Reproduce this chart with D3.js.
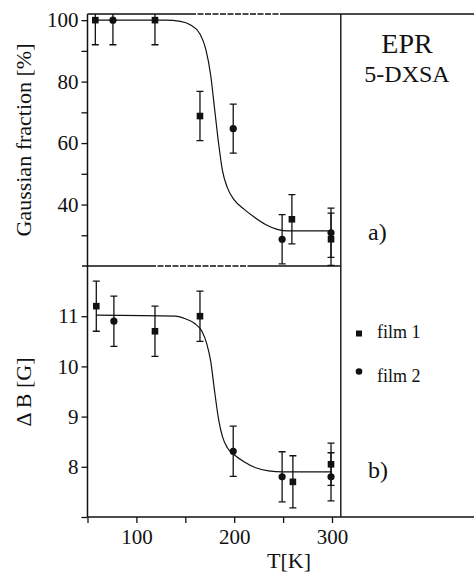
<!DOCTYPE html>
<html>
<head>
<meta charset="utf-8">
<script src="https://cdn.jsdelivr.net/npm/d3@7"></script>
<style>
  html, body { margin: 0; padding: 0; background: #fff; }
  svg { display: block; }
  text { font-family: "Liberation Serif", "Times New Roman", serif; fill: #111; }
</style>
</head>
<body>
<svg id="chart" width="474" height="573"></svg>
<script>
// Temperature sweep, film 1 (squares) and film 2 (circles)
const film1T      = [58, 119, 165, 259, 299];
const film1Gauss  = [100, 100, 68.8, 35.2, 28.7];
const film1GaussE = [8, 8, 8, 8, 8.5];
const film2T      = [76, 199, 249, 299];
const film2Gauss  = [100, 64.7, 28.7, 30.8];
const film2GaussE = [8, 8, 8, 8];

const film1dBT    = [59, 119, 165, 260, 299];
const film1dB     = [11.2, 10.7, 11.0, 7.7, 8.05];
const film1dBE    = [0.5, 0.5, 0.5, 0.52, 0.42];
const film2dBT    = [77, 199, 249, 299];
const film2dB     = [10.9, 8.31, 7.8, 7.8];
const film2dBE    = [0.5, 0.5, 0.5, 0.48];

// Fitted transition curves (T, value)
const fitGaussT = [57, 130, 145, 155, 165, 171, 176, 180, 184, 188, 193, 200, 210, 220, 232, 244, 255, 300];
const fitGaussV = [100, 100, 99.6, 98.5, 95.5, 90.5, 82, 71, 60, 51, 45.5, 41.5, 38.5, 36, 33.5, 31.9, 31.4, 31.4];
const fitDBT    = [59, 140, 150, 160, 167, 172, 176, 180, 184, 188, 193, 200, 210, 222, 235, 250, 300];
const fitDBV    = [11.02, 11.0, 10.95, 10.85, 10.7, 10.45, 10.1, 9.5, 8.95, 8.6, 8.38, 8.24, 8.1, 7.98, 7.92, 7.9, 7.9];

const xTicks      = [100, 200, 300];
const xMinorTicks = [50, 150, 250];
const gaussTicks  = [40, 60, 80, 100];
const gaussMinor  = [30, 50, 70, 90];
const dBTicks     = [8, 9, 10, 11];

const svg = d3.select("#chart");

const left = 87.5, right = 340.8, far = 474;
const topY = 14, midY = 266, botY = 517;

const x = d3.scaleLinear().domain([50, 309]).range([left, right]);
const yG = d3.scaleLinear().domain([20, 102]).range([midY, topY]);
const yB = d3.scaleLinear().domain([7, 12]).range([botY, midY]);

const defs = svg.append("defs");
defs.append("clipPath").attr("id", "clipTop")
  .append("rect").attr("x", left).attr("y", topY).attr("width", right - left).attr("height", midY - topY);
defs.append("clipPath").attr("id", "clipBot")
  .append("rect").attr("x", left).attr("y", midY).attr("width", right - left).attr("height", botY - midY);

// Frame lines (a few stretches are broken into short dashes)
const frame = svg.append("g").attr("stroke", "#111").attr("fill", "none");
function seg(x1, x2, y, w, dash) {
  const l = frame.append("line").attr("x1", x1).attr("x2", x2).attr("y1", y).attr("y2", y).attr("stroke-width", w);
  if (dash) l.attr("stroke-dasharray", dash);
}
seg(left, 190, topY, 1.3);
seg(190, 280, topY, 1.3, "6,1.5");
seg(280, far, topY, 1.3);
seg(82, 150, midY, 1.3);
seg(150, 250, midY, 1.3, "6,1.5");
seg(250, right, midY, 1.3);
frame.append("line").attr("x1", right).attr("x2", right).attr("y1", topY).attr("y2", botY).attr("stroke-width", 1.4);

// Axes
function leftAxis(scale, ticks, minor) {
  const g = svg.append("g").attr("transform", `translate(${left},0)`);
  g.call(d3.axisLeft(scale).tickValues(ticks).tickSize(6).tickPadding(3).tickFormat(d3.format("d")));
  if (minor) {
    g.append("g").call(d3.axisLeft(scale).tickValues(minor).tickSize(6).tickFormat(""));
  }
  g.selectAll(".domain").remove();
  g.selectAll(".tick line").attr("stroke", "#111").attr("stroke-width", 1.3);
  g.selectAll(".tick text").attr("font-size", 21).attr("fill", "#111");
  return g;
}
leftAxis(yG, gaussTicks, gaussMinor);
leftAxis(yB, dBTicks, [7]);
svg.append("line").attr("x1", left).attr("x2", left).attr("y1", topY).attr("y2", botY)
  .attr("stroke", "#111").attr("stroke-width", 1.5);

const gx = svg.append("g").attr("transform", `translate(0,${botY})`);
gx.call(d3.axisBottom(x).tickValues(xTicks).tickSize(6).tickPadding(6).tickFormat(d3.format("d")));
gx.append("g").call(d3.axisBottom(x).tickValues(xMinorTicks).tickSize(6).tickFormat(""));
gx.selectAll(".domain").remove();
gx.selectAll(".tick line").attr("stroke", "#111").attr("stroke-width", 1.3);
gx.selectAll(".tick text").attr("font-size", 21).attr("fill", "#111");
svg.append("line").attr("x1", left).attr("x2", far).attr("y1", botY).attr("y2", botY)
  .attr("stroke", "#111").attr("stroke-width", 1.5);

// Fit curves
const fitLine = (scale) => d3.line().x(d => x(d[0])).y(d => scale(d[1])).curve(d3.curveMonotoneX);
svg.append("path").attr("clip-path", "url(#clipTop)")
  .datum(d3.zip(fitGaussT, fitGaussV))
  .attr("d", fitLine(yG)).attr("fill", "none").attr("stroke", "#111").attr("stroke-width", 1.2);
svg.append("path").attr("clip-path", "url(#clipBot)")
  .datum(d3.zip(fitDBT, fitDBV))
  .attr("d", fitLine(yB)).attr("fill", "none").attr("stroke", "#111").attr("stroke-width", 1.2);

// Points with error bars
function drawSeries(clip, scale, ts, vs, es, shape) {
  const g = svg.append("g").attr("clip-path", `url(#${clip})`);
  const data = ts.map((t, i) => ({ t, v: vs[i], e: es[i] }));
  const cap = 3.5;
  const eb = g.selectAll(".eb").data(data).enter().append("g").attr("stroke", "#111").attr("stroke-width", 1.3);
  eb.append("line").attr("x1", d => x(d.t)).attr("x2", d => x(d.t))
    .attr("y1", d => scale(d.v + d.e)).attr("y2", d => scale(d.v - d.e));
  eb.append("line").attr("x1", d => x(d.t) - cap).attr("x2", d => x(d.t) + cap)
    .attr("y1", d => scale(d.v + d.e)).attr("y2", d => scale(d.v + d.e));
  eb.append("line").attr("x1", d => x(d.t) - cap).attr("x2", d => x(d.t) + cap)
    .attr("y1", d => scale(d.v - d.e)).attr("y2", d => scale(d.v - d.e));
  if (shape === "square") {
    g.selectAll(".m").data(data).enter().append("rect")
      .attr("x", d => x(d.t) - 3.3).attr("y", d => scale(d.v) - 3.3)
      .attr("width", 6.6).attr("height", 6.6).attr("fill", "#111");
  } else {
    g.selectAll(".m").data(data).enter().append("circle")
      .attr("cx", d => x(d.t)).attr("cy", d => scale(d.v)).attr("r", 3.6).attr("fill", "#111");
  }
}
drawSeries("clipTop", yG, film1T, film1Gauss, film1GaussE, "square");
drawSeries("clipTop", yG, film2T, film2Gauss, film2GaussE, "circle");
drawSeries("clipBot", yB, film1dBT, film1dB, film1dBE, "square");
drawSeries("clipBot", yB, film2dBT, film2dB, film2dBE, "circle");

// Axis titles
svg.append("text").attr("transform", "translate(31,140) rotate(-90)")
  .attr("text-anchor", "middle").attr("font-size", 22).text("Gaussian fraction [%]");
svg.append("text").attr("transform", "translate(31,392) rotate(-90)")
  .attr("text-anchor", "middle").attr("font-size", 22).text("Δ B [G]");
svg.append("text").attr("x", 289).attr("y", 568).attr("text-anchor", "middle")
  .attr("font-size", 22).text("T[K]");

// Annotations
svg.append("text").attr("x", 407).attr("y", 53).attr("text-anchor", "middle").attr("font-size", 28).text("EPR");
svg.append("text").attr("x", 407).attr("y", 82).attr("text-anchor", "middle").attr("font-size", 24).text("5-DXSA");
svg.append("text").attr("x", 368).attr("y", 240).attr("font-size", 24).text("a)");
svg.append("text").attr("x", 368).attr("y", 478).attr("font-size", 24).text("b)");

// Legend
const legend = svg.append("g");
legend.append("rect").attr("x", 356).attr("y", 330.5).attr("width", 6).attr("height", 6).attr("fill", "#111");
legend.append("text").attr("x", 377).attr("y", 338).attr("font-size", 18).text("film 1");
legend.append("circle").attr("cx", 359).attr("cy", 371.5).attr("r", 3.3).attr("fill", "#111");
legend.append("text").attr("x", 377).attr("y", 381.5).attr("font-size", 18).text("film 2");
</script>
</body>
</html>
